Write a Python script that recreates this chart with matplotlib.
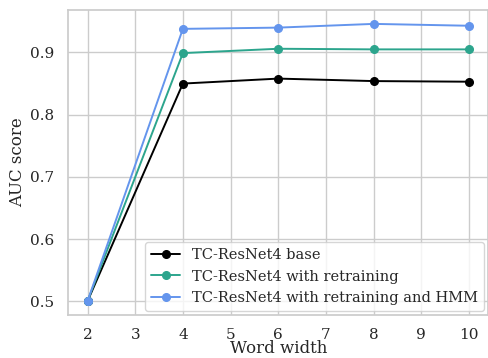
import matplotlib
matplotlib.use("Agg")
import matplotlib.pyplot as plt
import seaborn as sns

sns.set_theme(style="whitegrid")
plt.rcParams['font.family'] = ['DejaVu Serif']

word_width = [2, 4, 6, 8, 10]
base = [0.500, 0.850, 0.858, 0.854, 0.853]
retrain = [0.500, 0.899, 0.906, 0.905, 0.905]
retrain_hmm = [0.500, 0.938, 0.940, 0.946, 0.943]
labels = ["TC-ResNet4 base", "TC-ResNet4 with retraining",
          "TC-ResNet4 with retraining and HMM"]
colors = ["black", "#2ca58d", "#6495ed"]

fig, ax = plt.subplots(figsize=(4.89, 3.58), dpi=100)
for y, lab, c in zip([base, retrain, retrain_hmm], labels, colors):
    ax.plot(word_width, y, marker="o", markersize=5.5, color=c, label=lab, linewidth=1.4)
ax.set_xticks(range(2, 11))
ax.tick_params(labelsize=11, pad=4)
ax.tick_params(axis="x", pad=3)
ax.set_xlabel("Word width", fontsize=12, labelpad=-1)
ax.set_ylabel("AUC score", fontsize=12, labelpad=3)
ax.legend(loc="lower right", fontsize=10.5, borderaxespad=0.3, handlelength=2.0)
fig.subplots_adjust(left=0.14, right=0.998, top=0.972, bottom=0.12)
fig.savefig("out.png", dpi=100)
